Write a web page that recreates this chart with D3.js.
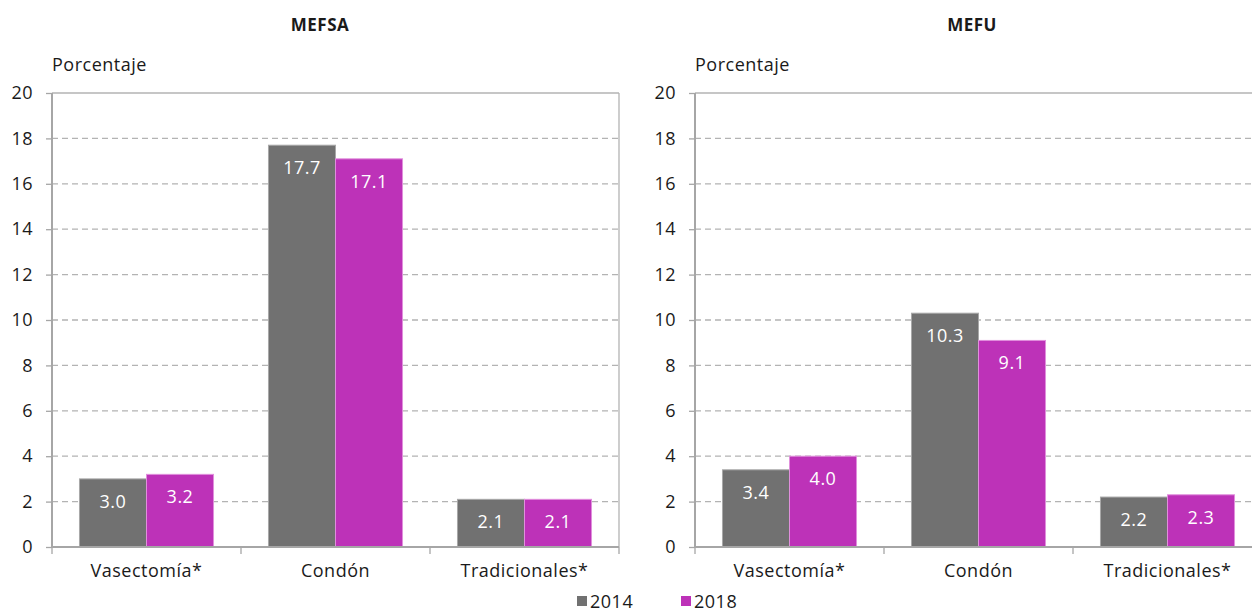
<!DOCTYPE html>
<html><head><meta charset="utf-8">
<script src="https://cdn.jsdelivr.net/npm/d3@7"></script>
<style>body{margin:0;background:#fff}svg{display:block}text{font-family:"Open Sans",sans-serif;fill:#1a1a1a;letter-spacing:0.5px}</style>
</head><body><svg id="c" width="1252" height="614"></svg>
<script>
const categories = ["Vasectomía*", "Condón", "Tradicionales*"];
const years = ["2014", "2018"];
const panels = ["MEFSA", "MEFU"];
const mefsa2014 = [3.0, 17.7, 2.1];
const mefsa2018 = [3.2, 17.1, 2.1];
const mefu2014 = [3.4, 10.3, 2.2];
const mefu2018 = [4.0, 9.1, 2.3];
const yTicks = [0, 2, 4, 6, 8, 10, 12, 14, 16, 18, 20];
const yLabel = "Porcentaje";

const colors = {"2014": "#717171", "2018": "#bd32b8"};
const strokes = {"2014": "#a8a8a8", "2018": "#e08fdc"};
const svg = d3.select("#c");
const data = [[mefsa2014, mefsa2018], [mefu2014, mefu2018]];
const lefts = [52, 695];
const titleX = [320, 972];
const plotW = 567, plotTop = 93, plotBottom = 547;

panels.forEach((name, pi) => {
  const x0 = lefts[pi];
  const g = svg.append("g");
  const x = d3.scaleBand().domain(categories).range([x0, x0 + plotW]).paddingInner(0).paddingOuter(0);
  const xs = d3.scaleBand().domain(years).range([0, x.bandwidth()]).paddingInner(0).paddingOuter(0.41);
  const y = d3.scaleLinear().domain([0, 20]).range([plotBottom, plotTop]);

  g.selectAll(".grid").data(yTicks.filter(t => t > 0 && t < 20)).join("line")
    .attr("x1", x0).attr("x2", x0 + plotW).attr("y1", d => y(d)).attr("y2", d => y(d))
    .attr("stroke", "#b3b3b3").attr("stroke-width", 1.3).attr("stroke-dasharray", "6,4");
  g.append("line").attr("x1", x0).attr("x2", x0 + plotW).attr("y1", y(20)).attr("y2", y(20))
    .attr("stroke", "#b3b3b3").attr("stroke-width", 1.3);
  g.append("line").attr("x1", x0 + plotW).attr("x2", x0 + plotW).attr("y1", y(20)).attr("y2", y(0))
    .attr("stroke", "#b3b3b3").attr("stroke-width", 1.3);

  categories.forEach((c, ci) => {
    years.forEach((yr, yi) => {
      const v = data[pi][yi][ci];
      const bx = x(c) + xs(yr);
      g.append("rect").attr("x", bx).attr("y", y(v)).attr("width", xs.bandwidth()).attr("height", y(0) - y(v))
        .attr("fill", colors[yr]).attr("stroke", strokes[yr]).attr("stroke-width", 1);
      g.append("text").attr("x", bx + xs.bandwidth() / 2).attr("y", y(v) + 29)
        .attr("text-anchor", "middle").style("fill", "#fff").style("font-size", "18px").text(v.toFixed(1));
    });
  });

  const ya = g.append("g").attr("transform", `translate(${x0},0)`)
    .call(d3.axisLeft(y).tickValues(yTicks).tickSize(6).tickPadding(13));
  ya.select(".domain").attr("stroke", "#a6a6a6").attr("stroke-width", 2).attr("d", `M0,${plotTop}V${plotBottom}`);
  ya.selectAll(".tick line").attr("stroke", "#a6a6a6").attr("stroke-width", 1.3);
  ya.selectAll(".tick text").style("font-size", "18px").style("fill", "#1a1a1a");

  const xa = g.append("g").attr("transform", `translate(0,${plotBottom})`)
    .call(d3.axisBottom(x).tickSize(0).tickPadding(17));
  xa.select(".domain").attr("stroke", "#a6a6a6").attr("stroke-width", 2).attr("d", `M${x0},0H${x0 + plotW}`);
  xa.selectAll(".tick text").style("font-size", "18px").style("fill", "#1a1a1a");
  const bTicks = [0, 1, 2, 3].map(i => x0 + i * x.bandwidth());
  g.selectAll(".bt").data(bTicks).join("line").attr("x1", d => d).attr("x2", d => d)
    .attr("y1", plotBottom).attr("y2", plotBottom + 7).attr("stroke", "#a6a6a6").attr("stroke-width", 1.3);

  g.append("text").attr("x", x0).attr("y", 71).style("font-size", "18px").text(yLabel);
  g.append("text").attr("x", titleX[pi]).attr("y", 31).attr("text-anchor", "middle")
    .style("font-size", "17px").style("font-weight", "bold").text(name);
});

const lg = svg.append("g");
const lx = [577, 681];
years.forEach((yr, i) => {
  lg.append("rect").attr("x", lx[i]).attr("y", 596).attr("width", 10).attr("height", 10).attr("fill", colors[yr]);
  lg.append("text").attr("x", lx[i] + 13).attr("y", 608).style("font-size", "18px").text(yr);
});
</script></body></html>
